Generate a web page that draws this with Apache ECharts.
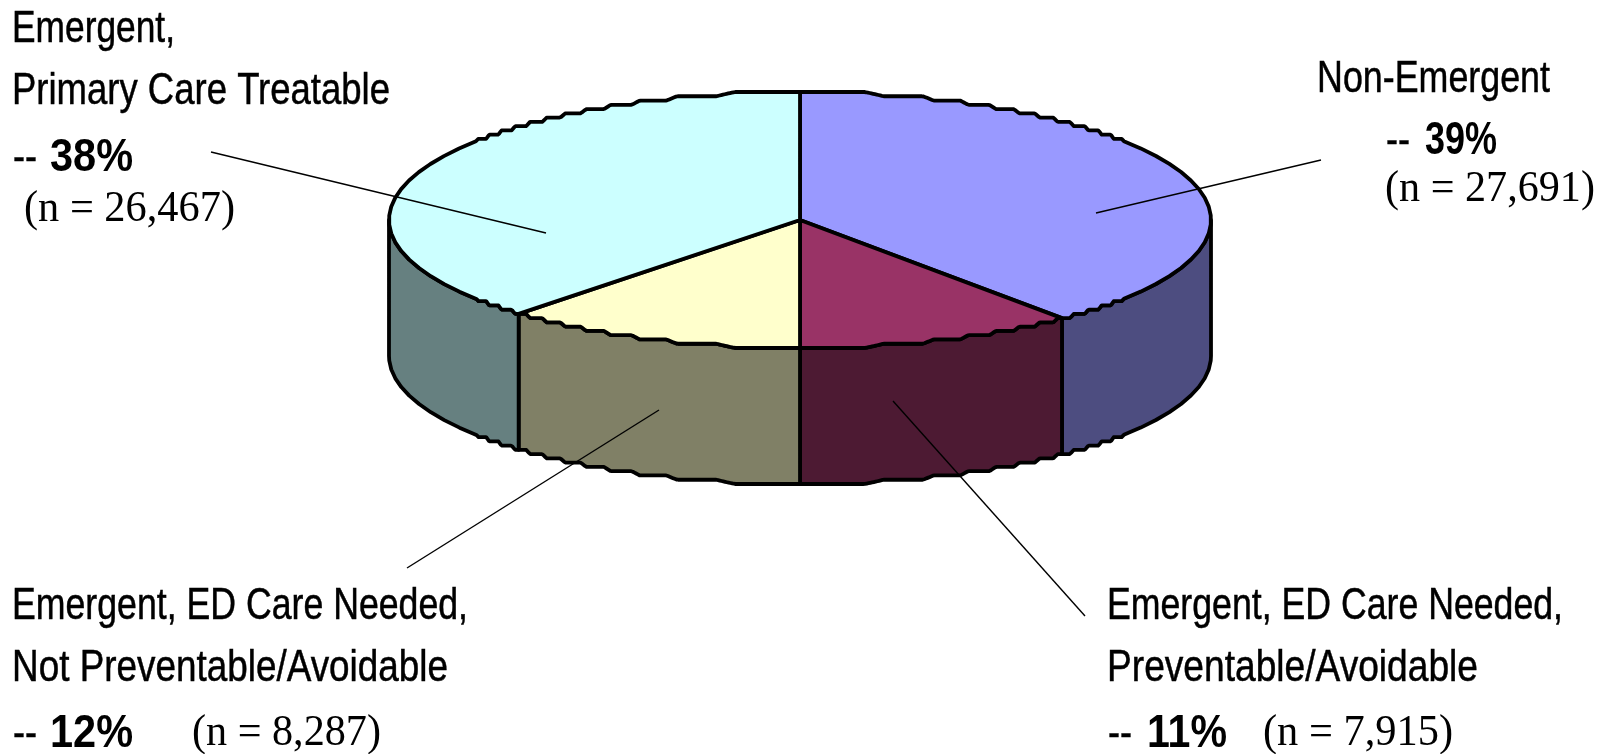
<!DOCTYPE html>
<html>
<head>
<meta charset="utf-8">
<style>html,body{margin:0;padding:0;background:#fff}#chart{width:1615px;height:754px}</style>
<script src="https://cdn.jsdelivr.net/npm/echarts@6/dist/echarts.min.js"></script>
</head>
<body>
<div id="chart"></div>
<script>
// Emergency department visits by classification, clockwise from twelve o'clock.
const categories = [
  ['Non-Emergent'],
  ['Emergent, ED Care Needed,', 'Preventable/Avoidable'],
  ['Emergent, ED Care Needed,', 'Not Preventable/Avoidable'],
  ['Emergent,', 'Primary Care Treatable']
];
const percents = [39, 11, 12, 38];
const counts = ['27,691', '7,915', '8,287', '26,467'];
const topColors = ['#9999FF', '#993366', '#FFFFCC', '#CCFFFF'];
const sideColors = ['#4D4D80', '#4D1A33', '#808066', '#668080'];

// Disc geometry in page pixels.
const CX = 800, CY = 220, RX = 411, RY = 128, DEPTH = 136;
const STEP_Y = RY / 30, FLAT = 0.375, STEEP = 0.62, CHORD_DEG = 4;
const total = percents.reduce((a, b) => a + b, 0);

// Vertical offset pulled onto flat runs joined by short ramps,
// which gives the rim its stepped low resolution outline.
function stepped(y) {
  const u = (y + RY) / STEP_Y;
  const k = Math.round(u);
  const f = u - k;
  const a = Math.abs(f);
  const level = a <= FLAT ? k : k + Math.sign(f) * (a - FLAT) / (0.5 - FLAT) * 0.5;
  return level * STEP_Y - RY;
}
function isSteep(deg) {
  return Math.abs(Math.cos(deg * Math.PI / 180)) < STEEP;
}
function rim(deg) {
  const t = deg * Math.PI / 180;
  const y = -RY * Math.cos(t);
  return [CX + RX * Math.sin(t), CY + (isSteep(deg) ? y : stepped(y))];
}
// Flat runs near the top and bottom of the disc, plain chords along its sides.
function arc(from, to) {
  const pts = [rim(from)];
  for (let d = from + 0.25; d < to; d += 0.25) {
    if (!isSteep(d) || Math.abs(d / CHORD_DEG - Math.round(d / CHORD_DEG)) < 0.03) pts.push(rim(d));
  }
  pts.push(rim(to));
  return pts;
}
function sliceAngles(i) {
  const before = percents.slice(0, i).reduce((a, b) => a + b, 0);
  return [before / total * 360, (before + percents[i]) / total * 360];
}
const outline = { stroke: '#000', lineWidth: 3.8, lineJoin: 'round' };

function renderTop(params) {
  const [a0, a1] = sliceAngles(params.dataIndex);
  return {
    type: 'polygon',
    shape: { points: [[CX, CY]].concat(arc(a0, a1)) },
    style: Object.assign({ fill: topColors[params.dataIndex] }, outline)
  };
}
function renderSide(params) {
  const [a0, a1] = sliceAngles(params.dataIndex);
  const from = Math.max(a0, 90), to = Math.min(a1, 270);
  if (from >= to) return { type: 'group', children: [] };
  const upper = arc(from, to);
  const lower = upper.map(p => [p[0], p[1] + DEPTH]).reverse();
  return {
    type: 'polygon',
    shape: { points: upper.concat(lower) },
    style: Object.assign({ fill: sideColors[params.dataIndex] }, outline)
  };
}

// Text and leader line placement: one entry per slice.
const SANS = 'Liberation Sans', SERIF = 'Liberation Serif';
const layouts = [
  { nameAt: [[1317, 95, 233]], dash: [1386, 157, 24], pct: [1425, 157, 72], n: [1385, 204, 210],
    leader: [[1321, 160], [1096, 213]] },
  { nameAt: [[1107, 622, 456], [1107, 684, 371]], dash: [1108, 750, 24], pct: [1147, 750, 80], n: [1263, 748, 190],
    leader: [[893, 401], [1085, 616]] },
  { nameAt: [[12, 622, 456], [12, 684, 436]], dash: [13, 750, 24], pct: [50, 750, 83], n: [192, 748, 189],
    leader: [[659, 410], [407, 568]] },
  { nameAt: [[12, 45, 163], [12, 107, 378]], dash: [13, 174, 24], pct: [50, 174, 83], n: [24, 224, 211],
    leader: [[211, 152], [546, 233]] }
];

const measure = document.createElement('canvas').getContext('2d');
function label(text, spot, family, size, weight, heavy) {
  const font = `${weight} ${size}px "${family}"`;
  measure.font = font;
  const mid = family === SERIF ? 0.3375 : 0.3465;
  const style = { text, font, fill: '#000', align: 'left', verticalAlign: 'middle' };
  if (heavy) { style.stroke = '#000'; style.lineWidth = heavy; }
  return {
    type: 'text',
    z: 100,
    x: spot[0],
    y: spot[1] - mid * size,
    scaleX: spot[2] / measure.measureText(text).width,
    style
  };
}

const elements = [];
layouts.forEach((l, i) => {
  categories[i].forEach((line, k) => elements.push(label(line, l.nameAt[k], SANS, 45, 'normal', 0.5)));
  elements.push(label('--', l.dash, SANS, 44, 'normal', 0.5));
  elements.push(label(percents[i] + '%', l.pct, SANS, 47, 'bold'));
  elements.push(label(`(n = ${counts[i]})`, l.n, SERIF, 44, 'normal'));
  elements.push({
    type: 'line', z: 90,
    shape: { x1: l.leader[0][0], y1: l.leader[0][1], x2: l.leader[1][0], y2: l.leader[1][1] },
    style: { stroke: '#000', lineWidth: 1.4 }
  });
});

const chart = echarts.init(document.getElementById('chart'), null, { renderer: 'canvas' });
chart.setOption({
  animation: false,
  backgroundColor: '#fff',
  graphic: { elements },
  series: [
    { type: 'custom', coordinateSystem: 'none', z: 2, data: percents, renderItem: renderSide, silent: true },
    { type: 'custom', coordinateSystem: 'none', z: 3, data: percents, renderItem: renderTop, silent: true }
  ]
});
</script>
</body>
</html>
